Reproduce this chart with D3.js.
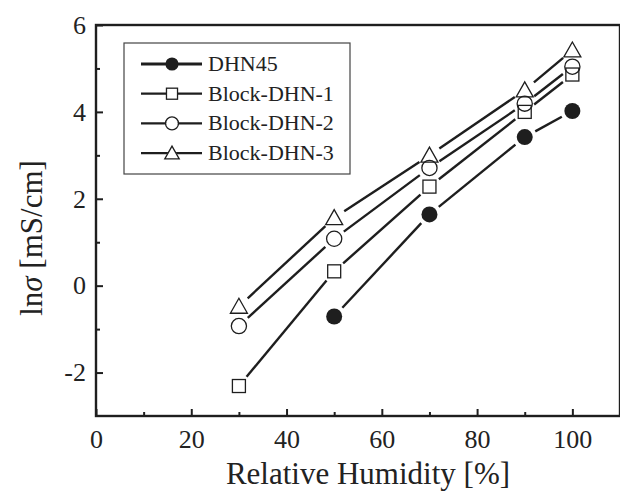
<!DOCTYPE html>
<html><head><meta charset="utf-8">
<script src="https://cdn.jsdelivr.net/npm/d3@7"></script>
<style>
html,body{margin:0;padding:0;background:#fff;}
</style></head>
<body><svg id="c" width="620" height="493"></svg>
<script>
const humidity = [30, 50, 70, 90, 100];
const seriesNames = ["DHN45", "Block-DHN-1", "Block-DHN-2", "Block-DHN-3"];
const dhn45 = [null, -0.71, 1.64, 3.42, 4.02];
const block1 = [-2.31, 0.33, 2.28, 4.0, 4.86];
const block2 = [-0.93, 1.08, 2.71, 4.19, 5.04];
const block3 = [-0.48, 1.56, 3.0, 4.5, 5.42];
const seriesValues = [dhn45, block1, block2, block3];
const markerTypes = ["filledCircle", "square", "circle", "triangle"];
const xTicks = [0, 20, 40, 60, 80, 100];
const xMinor = [10, 30, 50, 70, 90];
const yTicks = [-2, 0, 2, 4, 6];
const yMinor = [-1, 1, 3, 5];

const FONT = "\"Liberation Serif\", serif";
const svg = d3.select("#c");
const x = d3.scaleLinear().domain([0, 110]).range([96, 620]);
const y = d3.scaleLinear().domain([-3, 6]).range([416, 25]);
const ink = "#1e1e1e";

// axes
const gx = svg.append("g").attr("transform", `translate(0,${y(-3)})`)
  .call(d3.axisBottom(x).tickValues(xTicks).tickSize(-7).tickPadding(14).tickFormat(d => String(d)));
const gxm = svg.append("g").attr("transform", `translate(0,${y(-3)})`)
  .call(d3.axisBottom(x).tickValues(xMinor).tickSize(-4).tickFormat(""));
const gy = svg.append("g").attr("transform", `translate(${x(0)},0)`)
  .call(d3.axisLeft(y).tickValues(yTicks).tickSize(-7).tickPadding(10).tickFormat(d => String(d)));
const gym = svg.append("g").attr("transform", `translate(${x(0)},0)`)
  .call(d3.axisLeft(y).tickValues(yMinor).tickSize(-4).tickFormat(""));
[gx, gxm, gy, gym].forEach(g => {
  g.attr("font-family", null);
  g.select(".domain").remove();
  g.selectAll(".tick line").attr("stroke", ink).attr("stroke-width", 2);
  g.selectAll("text").style("font-family", FONT).style("font-size", "26px").attr("fill", "#222");
});
// frame
svg.append("rect").attr("x", x(0)).attr("y", y(6)).attr("width", x(110) - x(0)).attr("height", y(-3) - y(6))
  .attr("fill", "none").attr("stroke", ink).attr("stroke-width", 2.4);

// axis titles
svg.append("text").attr("x", 368).attr("y", 484).attr("text-anchor", "middle").attr("fill", "#222")
  .style("font-family", FONT).style("font-size", "31px").text("Relative Humidity [%]");
const yt = svg.append("text").attr("transform", "translate(42,238) rotate(-90)").attr("text-anchor", "middle")
  .attr("fill", "#222").style("font-family", FONT).style("font-size", "31px");
yt.append("tspan").text("ln");
yt.append("tspan").style("font-style", "italic").text("σ");
yt.append("tspan").text(" [mS/cm]");

// marker drawing
function marker(g, type, cx, cy, s) {
  if (type === "filledCircle") {
    g.append("circle").attr("cx", cx).attr("cy", cy).attr("r", 8 * s).attr("fill", ink);
  } else if (type === "circle") {
    g.append("circle").attr("cx", cx).attr("cy", cy).attr("r", 7.6 * s).attr("fill", "none").attr("stroke", ink).attr("stroke-width", 1.3);
  } else if (type === "square") {
    const h = 6.5 * s;
    g.append("rect").attr("x", cx - h).attr("y", cy - h).attr("width", 2 * h).attr("height", 2 * h).attr("fill", "none").attr("stroke", ink).attr("stroke-width", 1.3);
  } else if (type === "triangle") {
    const w = 8.5 * s, ht = 15 * s;
    g.append("path").attr("d", `M${cx},${cy - ht * 0.55}L${cx + w},${cy + ht * 0.45}L${cx - w},${cy + ht * 0.45}Z`)
      .attr("fill", "none").attr("stroke", ink).attr("stroke-width", 1.3);
  }
}

// series
const gap = 12;
seriesValues.forEach((vals, si) => {
  const g = svg.append("g");
  const pts = humidity.map((h, i) => vals[i] == null ? null : [x(h), y(vals[i])]).filter(p => p);
  for (let i = 0; i < pts.length - 1; i++) {
    const [x0, y0] = pts[i], [x1, y1] = pts[i + 1];
    const L = Math.hypot(x1 - x0, y1 - y0), ux = (x1 - x0) / L, uy = (y1 - y0) / L;
    g.append("line").attr("x1", x0 + ux * gap).attr("y1", y0 + uy * gap)
      .attr("x2", x1 - ux * gap).attr("y2", y1 - uy * gap)
      .attr("stroke", ink).attr("stroke-width", 2.4);
  }
  pts.forEach(p => marker(g, markerTypes[si], p[0], p[1], 1));
});

// legend
const lg = svg.append("g");
lg.append("rect").attr("x", 124).attr("y", 43).attr("width", 226).attr("height", 131)
  .attr("fill", "#fff").attr("stroke", "#444").attr("stroke-width", 1.2);
seriesNames.forEach((name, i) => {
  const cy = 64 + i * 29.7;
  lg.append("line").attr("x1", 141).attr("x2", 202).attr("y1", cy).attr("y2", cy)
    .attr("stroke", ink).attr("stroke-width", i === 0 ? 3 : 2.2);
  const mg = lg.append("g");
  if (markerTypes[i] === "square") mg.append("rect").attr("x", 166).attr("y", cy - 6).attr("width", 12).attr("height", 12).attr("fill", "#fff");
  if (markerTypes[i] === "circle") mg.append("circle").attr("cx", 172).attr("cy", cy).attr("r", 6).attr("fill", "#fff");
  if (markerTypes[i] === "triangle") mg.append("path").attr("d", `M172,${cy - 7}L180,${cy + 6}L164,${cy + 6}Z`).attr("fill", "#fff");
  marker(mg, markerTypes[i], 172, cy, markerTypes[i] === "filledCircle" ? 0.82 : 0.85);
  lg.append("text").attr("x", 208).attr("y", cy + 7).attr("fill", "#222")
    .style("font-family", FONT).style("font-size", "22px").text(name);
});
</script></body></html>
